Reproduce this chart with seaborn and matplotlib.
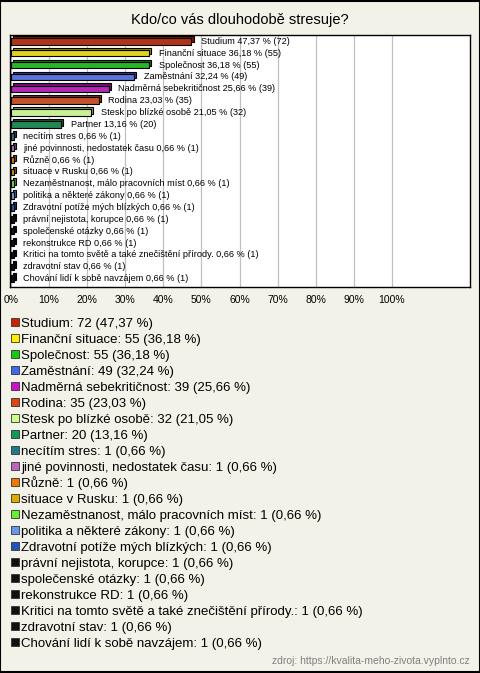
import numpy as np
import pandas as pd
import matplotlib
matplotlib.use("Agg")
import matplotlib.pyplot as plt
import matplotlib.patheffects as pe
from matplotlib.patches import Rectangle
from matplotlib.colors import to_rgb
import seaborn as sns

# data
labels = [
    "Studium", "Finanční situace", "Společnost", "Zaměstnání",
    "Nadměrná sebekritičnost", "Rodina", "Stesk po blízké osobě", "Partner",
    "necítím stres", "jiné povinnosti, nedostatek času", "Různě",
    "situace v Rusku", "Nezaměstnanost, málo pracovních míst",
    "politika a některé zákony", "Zdravotní potíže mých blízkých",
    "právní nejistota, korupce", "společenské otázky", "rekonstrukce RD",
    "Kritici na tomto světě a také znečištění přírody.", "zdravotní stav",
    "Chování lidí k sobě navzájem",
]
counts = [72, 55, 55, 49, 39, 35, 32, 20] + [1] * 13
percents = [47.37, 36.18, 36.18, 32.24, 25.66, 23.03, 21.05, 13.16] + [0.66] * 13
colors = [
    "#CC2200", "#FFEE00", "#11CC11", "#4466EE", "#CC11CC", "#DD4411",
    "#CCFF88", "#119955", "#227788", "#BB66BB", "#EE7700", "#DDAA00",
    "#66EE33", "#6699EE", "#2255BB",
] + ["#111111"] * 6
xticks = [0, 10, 20, 30, 40, 50, 60, 70, 80, 90, 100]

bg = "#F3F2E9"
W, H = 480, 673
plt.rcParams["font.family"] = ["Liberation Sans", "DejaVu Sans"]

df = pd.DataFrame({"label": labels, "count": counts, "pct": percents})
palette = dict(zip(labels, colors))

fig = plt.figure(figsize=(W / 100, H / 100), dpi=100, facecolor=bg)
ax = fig.add_axes([10 / W, 1 - 287 / H, 460 / W, 252 / H])
ax.set_facecolor("white")

sns.barplot(data=df, x="pct", y="label", hue="label", palette=palette,
            orient="h", width=0.55, edgecolor="black", linewidth=0.8,
            legend=False, ax=ax, zorder=3)

# fake 3D look: darker copy shifted up-right behind each bar
for patch, c in zip(ax.patches, colors):
    dark = tuple(v * 0.6 for v in to_rgb(c))
    patch.set_path_effects([
        pe.PathPatchEffect(offset=(1.5, 1.5), facecolor=dark,
                           edgecolor="black", linewidth=0.8),
        pe.Normal(),
    ])

def fmt(v):
    return f"{v:.2f}".replace(".", ",")

for i, (name, n, p) in enumerate(zip(labels, counts, percents)):
    ax.annotate(f"{name} {fmt(p)} % ({n})", xy=(p, i), xytext=(7, 0),
                textcoords="offset points", va="center", ha="left",
                fontsize=6.6, zorder=4)

ax.set_xlim(-0.26, 120.5)
ax.set_ylim(len(labels) - 1 + 0.7, -0.53)
ax.set_xticks(xticks)
ax.set_xticklabels([f"{t}%" for t in xticks], fontsize=7.5)
ax.tick_params(axis="x", length=0, pad=6)
ax.set_yticks([])
ax.set_xlabel("")
ax.set_ylabel("")
ax.grid(axis="x", color="#C0C0C0", linewidth=0.9, zorder=0)
ax.set_axisbelow(True)
for s in ax.spines.values():
    s.set_color("black")
    s.set_linewidth(1)

fig.text(0.5, 1 - 20 / H, "Kdo/co vás dlouhodobě stresuje?", ha="center",
         va="center", fontsize=10.5)

# legend below the chart, one entry per row
y0, pitch, box = 322, 16, 8
for i, (name, n, p, c) in enumerate(zip(labels, counts, percents, colors)):
    yc = y0 + i * pitch
    fig.add_artist(Rectangle((11 / W, 1 - (yc + box / 2) / H), box / W, box / H,
                             transform=fig.transFigure, facecolor=c,
                             edgecolor="#333333", linewidth=0.6))
    fig.text(21 / W, 1 - yc / H, f"{name}: {n} ({fmt(p)} %)", ha="left",
             va="center_baseline", fontsize=9.5)

fig.text(470 / W, 1 - 661 / H, "zdroj: https://kvalita-meho-zivota.vyplnto.cz",
         ha="right", va="center", fontsize=7.5, color="#808080")

# outer frame
fig.add_artist(Rectangle((0.001, 0.001), 0.998, 0.998, transform=fig.transFigure,
                         fill=False, edgecolor="black", linewidth=1.5))

fig.savefig("out.png", dpi=100, facecolor=bg)
